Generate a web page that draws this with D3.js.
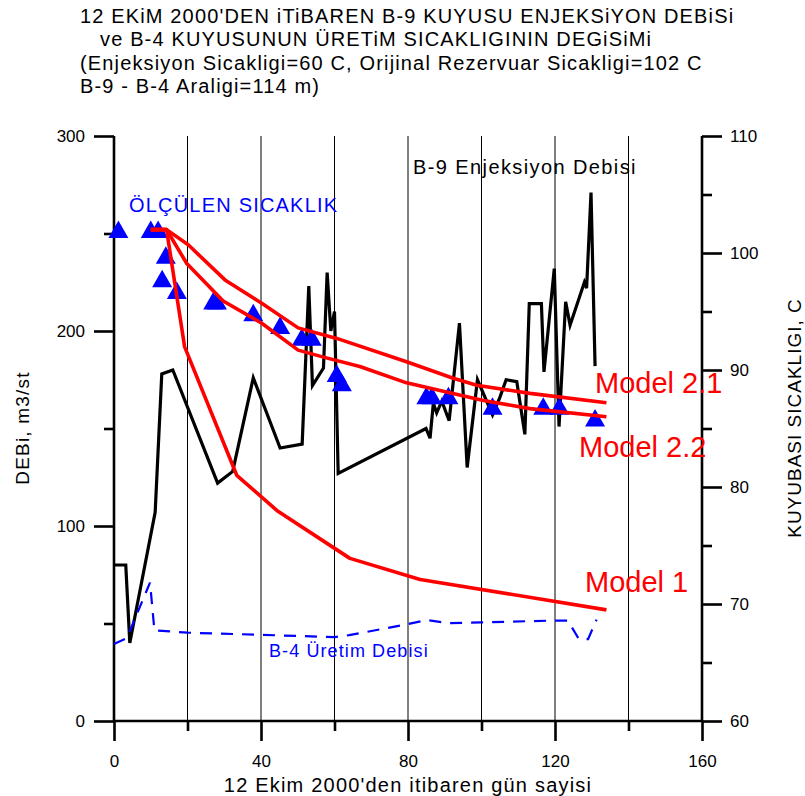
<!DOCTYPE html>
<html>
<head>
<meta charset="utf-8">
<script src="https://cdn.jsdelivr.net/npm/d3@7"></script>
<style>
  body { margin: 0; background: #fff; }
  svg text { font-family: "Liberation Sans", Arial, sans-serif; }
</style>
</head>
<body>
<div id="chart"></div>
<script>
// title lines
const titleLines = [
  "12 EKiM 2000'DEN iTiBAREN B-9 KUYUSU ENJEKSiYON DEBiSi",
  "ve B-4 KUYUSUNUN ÜRETiM SICAKLIGININ DEGiSiMi",
  "(Enjeksiyon Sicakligi=60 C, Orijinal Rezervuar Sicakligi=102 C",
  "B-9 - B-4 Araligi=114 m)"
];

// B-9 injection rate (m3/st), left axis
const b9Day  = [0, 3.2, 4.3, 11.2, 13, 16, 28.2, 32.3, 37.9, 45.2, 51.2, 53, 54, 57, 58, 59, 60, 61,
                84.9, 86, 86.9, 87.8, 89.2, 91.2, 94, 96.1, 98.9, 103, 105, 106.7, 109.6, 111.8,
                113, 116.3, 117, 119.8, 121.1, 122.9, 124.1, 128, 128.6, 129.8, 130.9];
const b9Rate = [80, 80, 40, 107, 178, 180, 122, 128, 176, 140, 142, 223, 172, 181, 230, 200, 210, 127,
                150, 145, 163, 158, 164, 154, 204, 130, 175, 157, 166, 175, 174, 147,
                214, 214, 179, 232, 151, 215, 203, 225, 222, 271, 182];

// B-4 production rate (m3/st), left axis
const b4Day  = [0, 3.5, 9.8, 11, 20, 40, 60, 64, 80, 85, 91, 100, 119.5, 123.5, 126.5, 129, 131.3];
const b4Rate = [39.5, 42.5, 71, 46.5, 45.3, 44.2, 43, 44, 49.7, 51.8, 50.2, 50.6, 51.5, 51.5, 42, 42, 52];

// measured wellhead temperature (C), right axis
const tDay  = [1.2, 10, 12, 13.1, 14.1, 17.1, 27, 28, 37.9, 45.2, 51.1, 53.8, 60.6, 62,
               85, 86.5, 91, 103, 116.8, 121.2, 130.9];
const tMeas = [102, 102, 102, 97.8, 99.8, 96.8, 95.9, 95.9, 94.9, 93.8, 92.8, 92.8, 89.7, 88.9,
               87.8, 87.8, 87.8, 86.9, 86.9, 86.9, 85.9];

// model curves (C), right axis
const m21Day = [10, 14.3, 20.2, 30.2, 40.2, 50.1, 60.6, 79.6, 92.3, 98.7, 113.2, 134];
const m21T   = [102, 102, 100.7, 97.7, 95.7, 93.6, 92.7, 90.7, 89.3, 88.7, 88.0, 87.2];
const m22Day = [10, 14.3, 19.8, 29.7, 40.2, 50.1, 57, 66.9, 79.6, 100.5, 113.2, 134];
const m22T   = [102, 102, 99.1, 95.9, 94.0, 91.7, 91.1, 90.3, 88.9, 87.4, 86.7, 86.0];
const m1Day  = [10, 14.3, 19.2, 33.4, 44.3, 64.2, 83.3, 134];
const m1T    = [102, 102, 92, 81, 78, 73.9, 72.1, 69.5];

// axis ticks
const xMajor = [0, 40, 80, 120, 160];
const xMinor = [20, 60, 100, 140];
const gridDays = [20, 40, 60, 80, 100, 120, 140];
const yLMajor = [0, 100, 200, 300];
const yLMinor = [50, 150, 250];
const yRMajor = [60, 70, 80, 90, 100, 110];
const yRMinor = [65, 75, 85, 95, 105];

const width = 805, height = 796;
const svg = d3.select("#chart").append("svg")
    .attr("width", width)
    .attr("height", height);

const x = d3.scaleLinear().domain([0, 160]).range([114, 702]);
const yL = d3.scaleLinear().domain([0, 300]).range([721, 136]);
const yR = d3.scaleLinear().domain([60, 110]).range([721, 136]);

// title
svg.append("g").selectAll("text")
    .data(titleLines)
    .enter().append("text")
    .attr("x", (d, i) => i === 1 ? 100 : 80)
    .attr("y", (d, i) => 23 + i * 23.3)
    .style("font-size", "20px")
    .style("letter-spacing", "1.15px")
    .text(d => d);

// vertical grid
svg.append("g").selectAll("line")
    .data(gridDays)
    .enter().append("line")
    .attr("x1", d => x(d)).attr("x2", d => x(d))
    .attr("y1", yL(300)).attr("y2", yL(0))
    .style("stroke", "#000")
    .style("stroke-width", 1);

// axes
function styleAxis(g) {
    g.selectAll("path").remove();
    g.selectAll("line").style("stroke", "#000").style("stroke-width", 2.6);
    g.selectAll("text").style("font-size", "17px").style("fill", "#000")
        .style("font-family", "'Liberation Sans', Arial, sans-serif");
}

svg.append("g").attr("transform", "translate(0,721)")
    .call(d3.axisBottom(x).tickValues(xMajor).tickSize(20).tickPadding(14).tickFormat(d3.format("d")))
    .call(styleAxis);
svg.append("g").attr("transform", "translate(0,721)")
    .call(d3.axisBottom(x).tickValues(xMinor).tickSize(10).tickFormat(""))
    .call(styleAxis);
svg.append("g").attr("transform", "translate(114,0)")
    .call(d3.axisLeft(yL).tickValues(yLMajor).tickSize(20).tickPadding(9).tickFormat(d3.format("d")))
    .call(styleAxis);
svg.append("g").attr("transform", "translate(114,0)")
    .call(d3.axisLeft(yL).tickValues(yLMinor).tickSize(10).tickFormat(""))
    .call(styleAxis);
svg.append("g").attr("transform", "translate(702,0)")
    .call(d3.axisRight(yR).tickValues(yRMajor).tickSize(20).tickPadding(8).tickFormat(d3.format("d")))
    .call(styleAxis);
svg.append("g").attr("transform", "translate(702,0)")
    .call(d3.axisRight(yR).tickValues(yRMinor).tickSize(10).tickFormat(""))
    .call(styleAxis);

// axis lines
const axisLines = svg.append("g").style("stroke", "#000").style("stroke-width", 2.6);
axisLines.append("line").attr("x1", x(0)).attr("x2", x(0)).attr("y1", yL(300)).attr("y2", yL(0));
axisLines.append("line").attr("x1", x(160)).attr("x2", x(160)).attr("y1", yR(110)).attr("y2", yR(60));
axisLines.append("line").attr("x1", x(0)).attr("x2", x(160)).attr("y1", yL(0)).attr("y2", yL(0));

// axis titles
svg.append("text")
    .attr("x", 408).attr("y", 792)
    .attr("text-anchor", "middle")
    .style("font-size", "20px")
    .style("letter-spacing", "1.2px")
    .text("12 Ekim 2000'den itibaren gün sayisi");
svg.append("text")
    .attr("transform", "translate(29,428) rotate(-90)")
    .attr("text-anchor", "middle")
    .style("font-size", "19px")
    .style("letter-spacing", "1.2px")
    .text("DEBi, m3/st");
svg.append("text")
    .attr("transform", "translate(801,418) rotate(-90)")
    .attr("text-anchor", "middle")
    .style("font-size", "19px")
    .style("letter-spacing", "1px")
    .text("KUYUBASI SICAKLIGI, C");

// B-9 injection rate line
const lineL = d3.line().x(d => x(d[0])).y(d => yL(d[1]));
const lineR = d3.line().x(d => x(d[0])).y(d => yR(d[1]));

svg.append("path")
    .datum(b9Day.map((d, i) => [d, b9Rate[i]]))
    .attr("d", lineL)
    .style("fill", "none")
    .style("stroke", "#000")
    .style("stroke-width", 3.2)
    .style("stroke-linejoin", "miter");

// B-4 production rate (dashed)
svg.append("path")
    .datum(b4Day.map((d, i) => [d, b4Rate[i]]))
    .attr("d", lineL)
    .style("fill", "none")
    .style("stroke", "#0000ff")
    .style("stroke-width", 2.2)
    .style("stroke-dasharray", "12,9");

// measured temperature triangles
svg.append("g").selectAll("path")
    .data(tDay.map((d, i) => [d, tMeas[i]]))
    .enter().append("path")
    .attr("transform", d => `translate(${x(d[0])},${yR(d[1])})`)
    .attr("d", "M0,-9 L10,8.5 L-10,8.5 Z")
    .style("fill", "#0000ff");

// model curves
[[m21Day, m21T], [m22Day, m22T], [m1Day, m1T]].forEach(m => {
    svg.append("path")
        .datum(m[0].map((d, i) => [d, m[1][i]]))
        .attr("d", lineR)
        .style("fill", "none")
        .style("stroke", "#ff0000")
        .style("stroke-width", 3.6)
        .style("stroke-linejoin", "round");
});

// annotations
svg.append("text").attr("x", 413).attr("y", 174)
    .style("font-size", "20px").style("letter-spacing", "1.4px")
    .text("B-9 Enjeksiyon Debisi");
svg.append("text").attr("x", 129).attr("y", 212)
    .style("font-size", "20px").style("letter-spacing", "1.2px").style("fill", "#0000ff")
    .text("ÖLÇÜLEN SICAKLIK");
svg.append("text").attr("x", 269).attr("y", 657)
    .style("font-size", "18px").style("letter-spacing", "1.1px").style("fill", "#0000ff")
    .text("B-4 Üretim Debisi");

const modelLabels = [
    { t: "Model 2.1", x: 595, y: 393 },
    { t: "Model 2.2", x: 579, y: 457 },
    { t: "Model 1", x: 585, y: 592 }
];
svg.append("g").selectAll("text")
    .data(modelLabels)
    .enter().append("text")
    .attr("x", d => d.x).attr("y", d => d.y)
    .style("font-size", "29px")
    .style("fill", "#ff0000")
    .text(d => d.t);
</script>
</body>
</html>
